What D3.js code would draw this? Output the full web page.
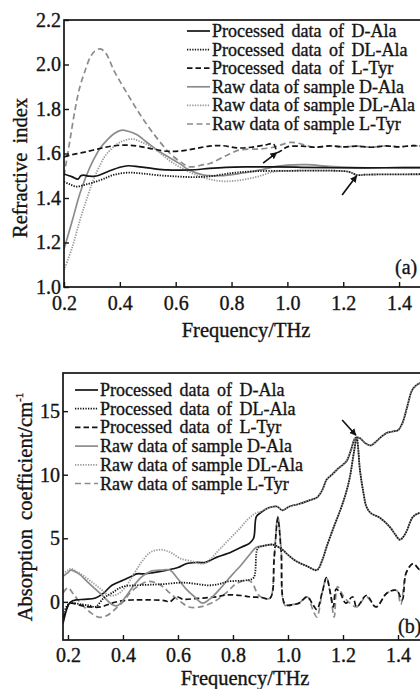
<!DOCTYPE html>
<html><head><meta charset="utf-8">
<script src="https://cdn.jsdelivr.net/npm/d3@7"></script>
<style>
body{margin:0;background:#fff}
svg{display:block}
</style>
</head><body>
<script>
// ---------------- DATA ----------------
const legendLabels = ["Processed data of D-Ala","Processed data of DL-Ala","Processed data of L-Tyr",
  "Raw data of sample D-Ala","Raw data of sample DL-Ala","Raw data of sample L-Tyr"];
const xTicks = [0.2,0.4,0.6,0.8,1.0,1.2,1.4];
const yTicksA = [1.0,1.2,1.4,1.6,1.8,2.0,2.2];
const yTicksB = [0,5,10,15];

// (a) refractive index
const fA_procDAla = [0.20,0.23,0.25,0.26,0.27,0.29,0.32,0.36,0.40,0.43,0.47,0.52,0.57,0.62,0.67,0.72,0.78,0.85,0.95,1.05,1.15,1.25,1.35,1.50];
const nA_procDAla = [1.508,1.495,1.485,1.500,1.503,1.498,1.500,1.520,1.538,1.545,1.540,1.532,1.526,1.525,1.527,1.533,1.538,1.540,1.540,1.538,1.536,1.535,1.536,1.537];
const fA_procDLAla = [0.20,0.22,0.245,0.27,0.30,0.34,0.38,0.43,0.48,0.54,0.60,0.66,0.72,0.80,0.88,1.00,1.10,1.18,1.22,1.25,1.28,1.35,1.50];
const nA_procDLAla = [1.473,1.462,1.451,1.458,1.468,1.485,1.505,1.514,1.510,1.502,1.497,1.494,1.497,1.512,1.520,1.522,1.523,1.522,1.518,1.503,1.505,1.506,1.507];
const fA_procLTyr = [0.20,0.23,0.27,0.32,0.37,0.42,0.47,0.52,0.57,0.62,0.67,0.72,0.77,0.82,0.87,0.92,0.95,0.965,0.98,1.00,1.05,1.10,1.15,1.20,1.25,1.30,1.35,1.40,1.45,1.50];
const nA_procLTyr = [1.585,1.595,1.605,1.620,1.633,1.638,1.632,1.620,1.610,1.612,1.622,1.633,1.635,1.625,1.628,1.638,1.643,1.605,1.615,1.630,1.633,1.628,1.634,1.630,1.633,1.628,1.634,1.630,1.635,1.632];
const fA_rawDAla = [0.20,0.23,0.257,0.28,0.305,0.33,0.354,0.38,0.408,0.43,0.46,0.50,0.54,0.58,0.62,0.642,0.70,0.76,0.83,0.90,0.95,1.00,1.07,1.15,1.25,1.35,1.50];
const nA_rawDAla = [1.17,1.30,1.42,1.50,1.57,1.625,1.66,1.69,1.705,1.70,1.685,1.647,1.61,1.58,1.55,1.53,1.503,1.50,1.51,1.525,1.54,1.548,1.550,1.542,1.537,1.536,1.537];
const fA_rawDLAla = [0.20,0.23,0.257,0.28,0.305,0.33,0.354,0.40,0.444,0.48,0.52,0.592,0.689,0.76,0.83,0.893,0.95,1.00,1.10,1.18,1.22,1.25,1.28,1.35,1.50];
const nA_rawDLAla = [1.076,1.18,1.30,1.39,1.48,1.55,1.60,1.65,1.665,1.65,1.625,1.556,1.496,1.476,1.48,1.496,1.518,1.522,1.523,1.522,1.518,1.503,1.505,1.506,1.507];
const fA_rawLTyr = [0.20,0.22,0.24,0.257,0.275,0.293,0.31,0.33,0.35,0.38,0.426,0.47,0.52,0.58,0.62,0.65,0.70,0.725,0.78,0.83,0.90,0.95,0.98,1.01,1.04,1.07,1.10,1.15,1.20,1.25,1.30,1.35,1.40,1.45,1.50];
const nA_rawLTyr = [1.50,1.65,1.80,1.90,1.97,2.03,2.06,2.07,2.05,1.97,1.87,1.78,1.69,1.60,1.56,1.54,1.55,1.556,1.59,1.616,1.620,1.628,1.640,1.650,1.646,1.635,1.628,1.634,1.630,1.633,1.628,1.634,1.630,1.635,1.632];

// (b) absorption coefficient
const fB_procDAla = [0.182,0.19,0.20,0.21,0.23,0.26,0.30,0.33,0.36,0.40,0.43,0.45,0.48,0.51,0.56,0.60,0.63,0.67,0.70,0.74,0.78,0.83,0.86,0.875,0.885,0.90,0.93,0.96,0.98,1.005,1.04,1.08,1.105,1.125,1.14,1.16,1.178,1.20,1.214,1.23,1.245,1.26,1.28,1.30,1.32,1.335,1.36,1.38,1.40,1.415,1.433,1.45,1.465,1.48,1.50];
const aB_procDAla = [-1.7,-1.0,-0.3,0.0,0.15,0.2,0.3,0.7,1.3,1.7,2.0,2.2,2.2,2.3,2.5,2.7,3.0,3.1,3.1,3.5,3.8,4.3,4.6,5.0,6.7,7.0,7.4,7.5,7.2,7.5,7.7,8.0,8.2,8.8,9.6,10.0,10.4,10.8,11.1,12.0,12.9,12.9,12.5,12.3,12.6,12.9,13.3,13.4,13.5,14.0,15.3,16.6,17.0,17.2,17.2];
const fB_procDLAla = [0.182,0.20,0.21,0.25,0.28,0.30,0.33,0.36,0.40,0.45,0.50,0.55,0.60,0.63,0.67,0.71,0.75,0.78,0.85,0.875,0.89,0.91,0.945,0.98,1.00,1.03,1.07,1.105,1.125,1.14,1.165,1.19,1.21,1.225,1.24,1.25,1.262,1.275,1.285,1.30,1.335,1.37,1.39,1.405,1.415,1.43,1.455,1.48,1.50];
const aB_procDLAla = [-1.0,-0.2,-0.1,-0.2,-0.3,-0.4,0.3,0.7,1.2,1.3,1.35,1.4,1.5,1.5,1.4,1.3,1.4,1.6,1.7,1.9,4.2,4.4,4.5,4.1,3.7,3.2,2.8,2.5,3.3,4.3,5.8,7.2,8.5,9.8,11.8,12.9,10.3,8.5,7.5,7.0,6.6,5.9,5.3,4.9,5.0,5.5,6.7,7.0,7.0];
const fB_procLTyr = [0.182,0.20,0.21,0.25,0.28,0.32,0.36,0.40,0.44,0.50,0.55,0.57,0.595,0.62,0.66,0.69,0.74,0.78,0.83,0.86,0.90,0.935,0.95,0.963,0.975,0.99,1.02,1.04,1.07,1.09,1.105,1.125,1.14,1.155,1.165,1.175,1.19,1.21,1.235,1.25,1.285,1.32,1.36,1.395,1.415,1.43,1.455,1.48,1.50];
const aB_procLTyr = [-1.3,-0.3,-0.1,-0.3,-0.4,-0.4,-0.1,0.1,0.15,0.15,0.1,0.0,0.4,0.2,0.25,0.3,0.4,0.55,0.5,0.4,0.35,0.3,3.5,6.6,4.0,-0.2,-0.2,-0.1,0.4,-0.2,-0.6,0.8,1.9,0.6,-0.4,1.0,0.7,-0.1,0.4,-0.4,0.5,-0.4,0.7,0.9,0.15,2.3,3.0,2.5,2.4];
const fB_rawDAla = [0.182,0.20,0.21,0.24,0.27,0.30,0.33,0.36,0.38,0.41,0.44,0.47,0.50,0.54,0.57,0.60,0.63,0.66,0.69,0.72,0.76,0.80,0.83,0.86,0.885,0.91,0.945,0.98,1.00,1.03,1.07,1.105,1.125,1.14,1.165,1.19,1.21,1.225,1.24,1.25,1.262,1.275,1.285,1.30,1.335,1.37,1.39,1.405,1.415,1.43,1.455,1.48,1.50];
const aB_rawDAla = [2.0,2.3,2.5,2.2,1.6,1.0,0.4,-0.2,-0.3,0.4,1.3,2.0,2.4,2.5,2.5,1.8,1.0,0.4,-0.1,0.3,1.2,2.2,2.9,3.7,4.3,4.4,4.5,4.1,3.7,3.2,2.8,2.5,3.3,4.3,5.8,7.2,8.5,9.8,11.8,12.9,10.3,8.5,7.5,7.0,6.6,5.9,5.3,4.9,5.0,5.5,6.7,7.0,7.0];
const fB_rawDLAla = [0.182,0.20,0.21,0.23,0.26,0.29,0.32,0.35,0.38,0.41,0.44,0.47,0.50,0.535,0.56,0.58,0.61,0.65,0.69,0.72,0.75,0.79,0.826,0.85,0.87,0.885,0.90,0.93,0.96,0.98,1.005,1.04,1.08,1.105,1.125,1.14,1.16,1.178,1.20,1.214,1.23,1.245,1.26,1.28,1.30,1.32,1.335,1.36,1.38,1.40,1.415,1.433,1.45,1.465,1.48,1.50];
const aB_rawDLAla = [2.2,2.5,2.6,2.4,2.0,1.5,1.0,0.5,0.6,1.2,2.2,3.2,3.9,4.1,4.0,3.8,3.4,3.2,3.0,3.4,4.1,5.0,5.8,6.4,6.8,7.0,7.1,7.4,7.5,7.2,7.5,7.7,8.0,8.2,8.8,9.6,10.0,10.4,10.8,11.1,12.0,12.9,12.9,12.5,12.3,12.6,12.9,13.3,13.4,13.5,14.0,15.3,16.6,17.0,17.2,17.2];
const fB_rawLTyr = [0.182,0.20,0.22,0.25,0.28,0.31,0.34,0.37,0.40,0.43,0.46,0.49,0.52,0.545,0.57,0.61,0.64,0.68,0.73,0.78,0.81,0.85,0.87,0.89,0.91,0.935,0.95,0.963,0.975,0.99,1.02,1.04,1.07,1.09,1.105,1.125,1.14,1.155,1.168,1.18,1.20,1.225,1.25,1.285,1.32,1.36,1.395,1.41,1.43,1.455,1.48,1.50];
const aB_rawLTyr = [0.7,1.1,0.6,-0.2,-0.8,-1.2,-1.1,-0.6,0.0,0.8,1.3,1.6,1.5,1.2,0.7,0.0,-0.4,-0.4,0.0,0.8,1.4,1.7,1.5,0.6,0.3,0.3,3.6,6.7,4.2,-0.3,-0.2,-0.1,0.4,-0.6,-1.2,0.8,1.9,0.5,-1.2,1.2,0.5,-0.1,-0.4,0.4,-0.4,0.7,0.9,-0.2,2.3,3.0,2.5,2.4];

// annotation arrows [fTail, vTail, fTip, vTip]
const arrowsA = [[0.913,1.557,0.962,1.604],[1.196,1.413,1.248,1.500]];
const arrowsB = [[1.197,14.3,1.247,13.1]];

// ---------------- STYLES ----------------
const BLACK = "#141414", GRAY = "#8c8c8c", LGRAY = "#9a9a9a";
const styles = [
  {color:BLACK, dash:null, w:1.7},
  {color:BLACK, dash:"1.3,1.3", w:1.8},
  {color:BLACK, dash:"5.5,3", w:1.7},
  {color:GRAY, dash:null, w:1.7},
  {color:LGRAY, dash:"1.3,1.3", w:1.8},
  {color:GRAY, dash:"6,3.5", w:1.7}
];
const FONT = "Liberation Serif, Times New Roman, serif";

const svg = d3.select("body").append("svg").attr("width",420).attr("height",689)
  .attr("font-family",FONT);
const defs = svg.append("defs");
defs.append("marker").attr("id","ah").attr("viewBox","0 0 10 10").attr("refX",9).attr("refY",5)
  .attr("markerWidth",7).attr("markerHeight",7).attr("markerUnits","userSpaceOnUse").attr("orient","auto")
  .append("path").attr("d","M0,0 L10,5 L0,10 Z").attr("fill",BLACK);

// text helper: serif, slightly heavier to match the scanned figure
function txt(sel){
  return sel.attr("font-family",FONT).attr("fill",BLACK)
    .attr("stroke",BLACK).attr("stroke-width",0.35);
}

function panel(cfg){
  const {x, y, series, order, yTicks, yFmt, legend, arrows, tag, clipId, curve} = cfg;
  const [x0,x1] = x.range(), [y0,y1] = y.range();
  const g = svg.append("g");
  defs.append("clipPath").attr("id",clipId).append("rect")
    .attr("x",x0).attr("y",y1).attr("width",x1-x0).attr("height",y0-y1);
  const line = d3.line().x(d=>x(d[0])).y(d=>y(d[1])).curve(curve);
  const lg = g.append("g").attr("clip-path",`url(#${clipId})`);
  order.forEach(i=>{
    const s = styles[i];
    lg.append("path").datum(d3.zip(series[i][0], series[i][1]))
      .attr("d",line).attr("fill","none").attr("stroke",s.color)
      .attr("stroke-width",s.w).attr("stroke-dasharray",s.dash).attr("stroke-linejoin","round");
  });
  g.append("rect").attr("x",x0).attr("y",y1).attr("width",x1-x0).attr("height",y0-y1)
    .attr("fill","none").attr("stroke",BLACK).attr("stroke-width",1.7);
  const ax = g.append("g").attr("transform",`translate(0,${y0})`)
    .call(d3.axisBottom(x).tickValues(xTicks).tickFormat(d3.format(".1f")).tickSize(-5).tickPadding(cfg.xPad));
  const ay = g.append("g").attr("transform",`translate(${x0},0)`)
    .call(d3.axisLeft(y).tickValues(yTicks).tickFormat(yFmt).tickSize(-5).tickPadding(3));
  [ax,ay].forEach(a=>{
    a.attr("font-family",FONT).attr("font-size",20);
    a.select(".domain").remove();
    a.selectAll(".tick line").attr("stroke",BLACK).attr("stroke-width",1.4);
    a.selectAll(".tick text").call(txt).attr("font-size",20);
  });
  legend.rows.forEach((r,i)=>{
    const s = styles[i], cy = legend.y0 + i*legend.dy;
    g.append("line").attr("x1",legend.lx0).attr("x2",legend.lx1).attr("y1",cy).attr("y2",cy)
      .attr("stroke",s.color).attr("stroke-width",s.w).attr("stroke-dasharray",s.dash);
    g.append("text").call(txt).attr("x",legend.tx).attr("y",cy+6).attr("font-size",18)
      .attr("word-spacing", i<3 ? 3 : 0).text(r);
  });
  arrows.forEach(a=>{
    g.append("line").attr("x1",x(a[0])).attr("y1",y(a[1])).attr("x2",x(a[2])).attr("y2",y(a[3]))
      .attr("stroke",BLACK).attr("stroke-width",1.7).attr("marker-end","url(#ah)");
  });
  g.append("text").call(txt).attr("x",tag.x).attr("y",tag.y).attr("font-size",20).text(tag.t);
  return g;
}

// ---- panel (a)
const xA = d3.scaleLinear().domain([0.2,1.5]).range([64,427]);
const yA = d3.scaleLinear().domain([1.0,2.2]).range([287,20]);
panel({
  x:xA, y:yA, clipId:"ca", xPad:9, curve:d3.curveCatmullRom.alpha(0.5),
  series:[[fA_procDAla,nA_procDAla],[fA_procDLAla,nA_procDLAla],[fA_procLTyr,nA_procLTyr],
          [fA_rawDAla,nA_rawDAla],[fA_rawDLAla,nA_rawDLAla],[fA_rawLTyr,nA_rawLTyr]],
  order:[3,4,5,0,1,2],
  yTicks:yTicksA, yFmt:d3.format(".1f"),
  legend:{rows:legendLabels, y0:31, dy:18.6, lx0:187, lx1:210, tx:212},
  arrows:arrowsA, tag:{x:395,y:274,t:"(a)"}
});
svg.append("text").call(txt).attr("transform","translate(27,168) rotate(-90)").attr("text-anchor","middle")
  .attr("font-size",20.5).attr("word-spacing",4).text("Refractive index");
svg.append("text").call(txt).attr("x",246).attr("y",337).attr("text-anchor","middle")
  .attr("font-size",20.5).text("Frequency/THz");

// ---- panel (b)
const xB = d3.scaleLinear().domain([0.182,1.5]).range([63,425.5]);
const yB = d3.scaleLinear().domain([-3,18]).range([640,373]);
panel({
  x:xB, y:yB, clipId:"cb", xPad:8, curve:d3.curveCatmullRom.alpha(0.5),
  series:[[fB_procDAla,aB_procDAla],[fB_procDLAla,aB_procDLAla],[fB_procLTyr,aB_procLTyr],
          [fB_rawDAla,aB_rawDAla],[fB_rawDLAla,aB_rawDLAla],[fB_rawLTyr,aB_rawLTyr]],
  order:[5,2,0,4,3,1],
  yTicks:yTicksB, yFmt:d3.format("d"),
  legend:{rows:legendLabels, y0:390, dy:18.7, lx0:75, lx1:98, tx:100},
  arrows:arrowsB, tag:{x:398,y:633,t:"(b)"}
});
const yl = svg.append("text").call(txt).attr("transform","translate(32,507) rotate(-90)").attr("text-anchor","middle")
  .attr("font-size",20.5).attr("word-spacing",4);
yl.append("tspan").text("Absorption coefficient/cm");
yl.append("tspan").attr("font-size",11).attr("dy",-9).text("-1");
svg.append("text").call(txt).attr("x",245).attr("y",685).attr("text-anchor","middle")
  .attr("font-size",20.5).text("Frequency/THz");
</script>
</body></html>
